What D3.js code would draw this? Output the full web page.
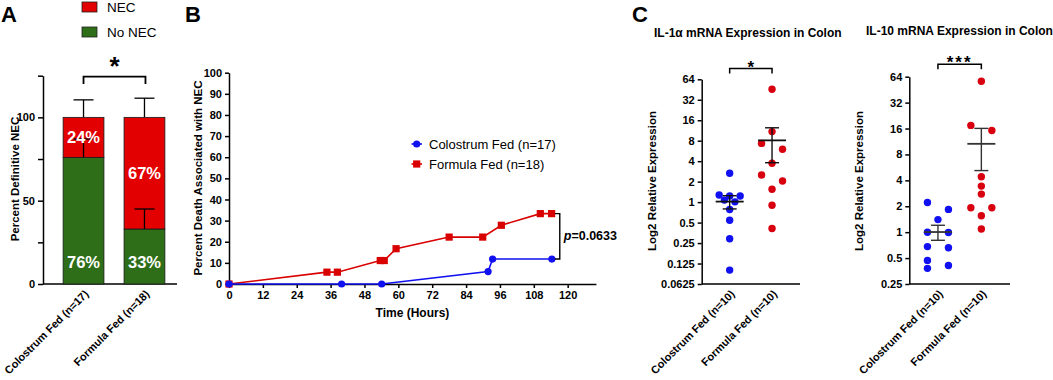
<!DOCTYPE html>
<html>
<head>
<meta charset="utf-8">
<script src="https://cdn.jsdelivr.net/npm/d3@7"></script>
<style>
  body { margin: 0; background: #fff; }
  svg { font-family: "Liberation Sans", Arial, sans-serif; }
  .axis path, .axis line { stroke: #000; stroke-width: 1.5px; }
  .axis text { font-size: 11px; font-weight: bold; fill: #000; }
</style>
</head>
<body>
<div id="chart"></div>
<script>
// ---------------- data ----------------
const groupsA = ["Colostrum Fed (n=17)", "Formula Fed (n=18)"];
const pctNoNec = [76, 33];
const pctNec = [24, 67];
const errNoNec = [11, 12];
const errTotal = [10.5, 11.5];

const colostrumHours = [0, 39.9, 54.1, 91.8, 93.4, 114.4];
const colostrumDeath = [0, 0, 0, 5.9, 11.8, 11.8];
const formulaHours = [0, 34.7, 38.4, 53.6, 55, 59.2, 78, 89.9, 96.5, 110.3, 114.3];
const formulaDeath = [0, 5.6, 5.6, 11.1, 11.1, 16.7, 22.2, 22.2, 27.8, 33.3, 33.3];
const survivalNames = ["Colostrum Fed (n=17)", "Formula Fed (n=18)"];
const hourTicks = [0, 12, 24, 36, 48, 60, 72, 84, 96, 108, 120];
const deathTicks = [0, 10, 20, 30, 40, 50, 60, 70, 80, 90, 100];

const groupsC = ["Colostrum Fed (n=10)", "Formula Fed (n=10)"];
const il1aColostrum = [2.66, 1.23, 1.27, 1.23, 1.01, 1.07, 0.78, 0.54, 0.29, 0.10];
const il1aFormula = [45.6, 10.9, 7.3, 6.0, 3.73, 2.51, 2.04, 1.55, 0.90, 0.41];
const il10Colostrum = [1.84, 2.21, 1.40, 0.99, 1.0, 0.66, 0.68, 0.47, 0.38, 0.41];
const il10Formula = [56.6, 17.4, 15.2, 4.4, 3.43, 2.77, 1.92, 1.92, 1.55, 1.09];
const il1aTicks = [0.0625, 0.125, 0.25, 0.5, 1, 2, 4, 8, 16, 32, 64];
const il10Ticks = [0.25, 0.5, 1, 2, 4, 8, 16, 32, 64];

const RED = "#e20000", GREEN = "#2e6e18", BLUE = "#1010f0", DOT_RED = "#d8000f";

// ---------------- svg ----------------
const W = 1053, H = 380;
const svg = d3.select("#chart").append("svg")
  .attr("width", W).attr("height", H);

function panelLetter(txt, x) {
  svg.append("text").attr("x", x).attr("y", 22)
    .attr("font-size", 22).attr("font-weight", "bold").text(txt);
}
function yLabel(txt, x, cy) {
  svg.append("text")
    .attr("transform", `translate(${x},${cy}) rotate(-90)`)
    .attr("text-anchor", "middle").attr("dominant-baseline", "central")
    .attr("font-size", 11.5).attr("font-weight", "bold").text(txt);
}
function rotatedXLabels(g, scale, y0) {
  g.selectAll("text.xl").data(scale.domain()).join("text")
    .attr("class", "xl")
    .attr("transform", d => `translate(${scale(d) + (scale.bandwidth ? scale.bandwidth() / 2 : 0) + 3},${y0 + 8}) rotate(-45)`)
    .attr("text-anchor", "end").attr("dy", "0.35em")
    .attr("font-size", 11).attr("font-weight", "bold").text(d => d);
}

// ---------------- Panel A ----------------
panelLetter("A", 1);
const gA = svg.append("g");
const yA = d3.scaleLinear().domain([0, 125]).range([284, 75.7]);
const xA = d3.scaleBand().domain(groupsA).range([43, 185]).paddingInner(0.33).paddingOuter(0.33);

gA.append("g").attr("class", "axis").attr("transform", "translate(43,0)")
  .call(d3.axisLeft(yA).tickValues([0, 25, 50, 75, 100, 125]).tickSize(5).tickSizeOuter(0)
    .tickFormat(d => d % 50 === 0 ? d : ""));
gA.append("line").attr("x1", 43).attr("x2", 177).attr("y1", yA(0)).attr("y2", yA(0))
  .attr("stroke", "#000").attr("stroke-width", 1.5);

const barsA = groupsA.map((g, i) => ({ g, no: pctNoNec[i], nec: pctNec[i], eNo: errNoNec[i], eTot: errTotal[i] }));
const bw = xA.bandwidth();
// upper error bars (behind bars)
barsA.forEach(d => {
  const cx = xA(d.g) + bw / 2;
  const tot = d.no + d.nec;
  gA.append("line").attr("x1", cx).attr("x2", cx).attr("y1", yA(tot)).attr("y2", yA(tot + d.eTot)).attr("stroke", "#000").attr("stroke-width", 1.3);
  gA.append("line").attr("x1", cx - 10).attr("x2", cx + 10).attr("y1", yA(tot + d.eTot)).attr("y2", yA(tot + d.eTot)).attr("stroke", "#000").attr("stroke-width", 1.3);
});
gA.selectAll("rect.no").data(barsA).join("rect").attr("class", "no")
  .attr("x", d => xA(d.g)).attr("width", bw)
  .attr("y", d => yA(d.no)).attr("height", d => yA(0) - yA(d.no))
  .attr("fill", GREEN).attr("stroke", "#1a1a1a").attr("stroke-width", 0.8);
gA.selectAll("rect.nec").data(barsA).join("rect").attr("class", "nec")
  .attr("x", d => xA(d.g)).attr("width", bw)
  .attr("y", d => yA(d.no + d.nec)).attr("height", d => yA(d.no) - yA(d.no + d.nec))
  .attr("fill", RED).attr("stroke", "#1a1a1a").attr("stroke-width", 0.8);
// error whiskers of the No NEC part, drawn inside the red segment
barsA.forEach(d => {
  const cx = xA(d.g) + bw / 2;
  gA.append("line").attr("x1", cx).attr("x2", cx).attr("y1", yA(d.no)).attr("y2", yA(d.no + d.eNo)).attr("stroke", "#000").attr("stroke-width", 1.3);
  gA.append("line").attr("x1", cx - 10).attr("x2", cx + 10).attr("y1", yA(d.no + d.eNo)).attr("y2", yA(d.no + d.eNo)).attr("stroke", "#000").attr("stroke-width", 1.3);
});
gA.selectAll("text.pn").data(barsA).join("text").attr("class", "pn")
  .attr("x", d => xA(d.g) + bw / 2).attr("y", d => yA(d.no + d.nec / 2))
  .attr("text-anchor", "middle").attr("dominant-baseline", "central")
  .attr("fill", "#fff").attr("font-size", 16.5).attr("font-weight", "bold").text(d => d.nec + "%");
gA.selectAll("text.pg").data(barsA).join("text").attr("class", "pg")
  .attr("x", d => xA(d.g) + bw / 2).attr("y", yA(0) - 22)
  .attr("text-anchor", "middle").attr("dominant-baseline", "central")
  .attr("fill", "#fff").attr("font-size", 16.5).attr("font-weight", "bold").text(d => d.no + "%");
rotatedXLabels(gA, xA, yA(0));
yLabel("Percent Definitive NEC", 15, 179);

// significance bracket
const bx1 = xA(groupsA[0]) + bw / 2, bx2 = xA(groupsA[1]) + bw / 2 + 1;
gA.append("path").attr("d", `M${bx1},${yA(120)}V${yA(124.5)}H${bx2}V${yA(120)}`)
  .attr("fill", "none").attr("stroke", "#000").attr("stroke-width", 1.8);
gA.append("text").attr("x", (bx1 + bx2) / 2).attr("y", 75).attr("text-anchor", "middle")
  .attr("font-size", 26).attr("font-weight", "bold").text("*");

// legend
[["NEC", RED], ["No NEC", GREEN]].forEach(([t, c], i) => {
  gA.append("rect").attr("x", 82).attr("y", 2 + i * 25).attr("width", 15).attr("height", 10)
    .attr("fill", c).attr("stroke", "#222").attr("stroke-width", 0.8);
  gA.append("text").attr("x", 107).attr("y", 7 + i * 25).attr("dominant-baseline", "central")
    .attr("font-size", 13.5).text(t);
});

// ---------------- Panel B ----------------
panelLetter("B", 185);
const gB = svg.append("g");
const xB = d3.scaleLinear().domain([0, 130]).range([229, 595.9]);
const yB = d3.scaleLinear().domain([0, 100]).range([284, 72.7]);
gB.append("g").attr("class", "axis").attr("transform", `translate(0,${yB(0)})`)
  .call(d3.axisBottom(xB).tickValues(hourTicks).tickSize(4).tickSizeOuter(0));
gB.append("g").attr("class", "axis").attr("transform", `translate(${xB(0)},0)`)
  .call(d3.axisLeft(yB).tickValues(deathTicks).tickSize(4).tickSizeOuter(0));

const series = [
  { name: survivalNames[0], color: BLUE, shape: "circle", pts: colostrumHours.map((h, i) => [h, colostrumDeath[i]]) },
  { name: survivalNames[1], color: "#d90000", shape: "square", pts: formulaHours.map((h, i) => [h, formulaDeath[i]]) }
];
const line = d3.line().x(d => xB(d[0])).y(d => yB(d[1]));
function marker(g, shape, x, y, color) {
  if (shape === "circle") g.append("circle").attr("cx", x).attr("cy", y).attr("r", 3.6).attr("fill", color);
  else g.append("rect").attr("x", x - 3.6).attr("y", y - 3.6).attr("width", 7.2).attr("height", 7.2).attr("fill", color);
}
// formula first so blue sits on top at zero
[series[1], series[0]].forEach(s => {
  gB.append("path").datum(s.pts).attr("d", line).attr("fill", "none")
    .attr("stroke", s.color).attr("stroke-width", 1.6);
  s.pts.forEach(p => marker(gB, s.shape, xB(p[0]), yB(p[1]), s.color));
});
series.forEach((s, i) => {
  const ly = 144 + i * 20;
  gB.append("line").attr("x1", 411.5).attr("x2", 422).attr("y1", ly).attr("y2", ly)
    .attr("stroke", s.color).attr("stroke-width", 1.6);
  marker(gB, s.shape, 416.7, ly, s.color);
  gB.append("text").attr("x", 429).attr("y", ly).attr("dominant-baseline", "central")
    .attr("font-size", 13).text(s.name);
});
// p-value bracket
const pTop = d3.max(formulaDeath), pBot = d3.max(colostrumDeath);
const px = xB(117.2);
gB.append("path").attr("d", `M${px - 5},${yB(pTop)}H${px}V${yB(pBot)}H${px - 5}`)
  .attr("fill", "none").attr("stroke", "#000").attr("stroke-width", 1.4);
const pt = gB.append("text").attr("x", px + 4).attr("y", (yB(pTop) + yB(pBot)) / 2)
  .attr("dominant-baseline", "central").attr("font-size", 12.5).attr("font-weight", "bold");
pt.append("tspan").attr("font-style", "italic").text("p");
pt.append("tspan").text("=0.0633");
svg.append("text").attr("x", (xB.range()[0] + xB.range()[1]) / 2).attr("y", 313).attr("text-anchor", "middle")
  .attr("dominant-baseline", "central").attr("font-size", 12).attr("font-weight", "bold").text("Time (Hours)");
yLabel("Percent Death Associated with NEC", 198, 178);

// ---------------- Panel C ----------------
panelLetter("C", 632);

// simple column arrangement for overlapping dots
function dodge(vals, y, step) {
  const idx = vals.map((v, i) => i).sort((a, b) => y(vals[a]) - y(vals[b]));
  const py = idx.map(i => y(vals[i]));
  const off = new Array(vals.length).fill(0);
  const clusters = [];
  let cur = [0];
  for (let k = 1; k < idx.length; k++) {
    if (py[k] - py[k - 1] < 7.2) cur.push(k); else { clusters.push(cur); cur = [k]; }
  }
  clusters.push(cur);
  clusters.forEach(c => {
    if (c.length === 1) return;
    const rows = [];
    let r = [c[0]];
    for (let j = 1; j < c.length; j++) {
      if (py[c[j]] - py[c[j - 1]] < 2.5) r.push(c[j]); else { rows.push(r); r = [c[j]]; }
    }
    rows.push(r);
    if (rows.every(rw => rw.length === 1)) {
      rows.forEach((rw, j) => off[idx[rw[0]]] = j % 2 === 0 ? -1 : 1);
      return;
    }
    let prev = 0;
    rows.forEach(rw => {
      const k = rw.length;
      const spread = (k % 2 === 0 && !(prev % 2 === 1 && prev >= 3)) ? 2 : 1;
      rw.forEach((m, j) => off[idx[m]] = (j - (k - 1) / 2) * spread);
      prev = k;
    });
  });
  return off.map(o => o * step);
}

function scatterPanel(opt) {
  const g = svg.append("g");
  const x = d3.scalePoint().domain(groupsC).range([opt.x0, opt.x1]).padding(0.66);
  const y = d3.scaleLog().base(2).domain(opt.domain).range([284, opt.yTop]);
  g.append("g").attr("class", "axis").attr("transform", `translate(${opt.x0},0)`)
    .call(d3.axisLeft(y).tickValues(opt.ticks).tickSize(4).tickSizeOuter(0).tickFormat(d => String(d)));
  g.append("line").attr("x1", opt.x0).attr("x2", opt.x1).attr("y1", 284).attr("y2", 284)
    .attr("stroke", "#000").attr("stroke-width", 1.5);
  opt.sets.forEach((vals, gi) => {
    const cx = x(groupsC[gi]);
    const off = dodge(vals, y, 10.5);
    g.selectAll(null).data(vals).join("circle")
      .attr("cx", (d, i) => cx + off[i]).attr("cy", d => y(d)).attr("r", 3.7)
      .attr("fill", gi === 0 ? BLUE : DOT_RED);
    const m = d3.mean(vals), sem = d3.deviation(vals) / Math.sqrt(vals.length);
    const col = opt.barColor;
    g.append("line").attr("x1", cx).attr("x2", cx).attr("y1", y(m - sem)).attr("y2", y(m + sem)).attr("stroke", col).attr("stroke-width", 1.4);
    [[m - sem, 7], [m + sem, 7], [m, 14]].forEach(([v, hw]) => {
      g.append("line").attr("x1", cx - hw).attr("x2", cx + hw).attr("y1", y(v)).attr("y2", y(v))
        .attr("stroke", col).attr("stroke-width", v === m ? 1.8 : 1.4);
    });
  });
  rotatedXLabels(g, x, 284);
  // bracket
  const b1 = x(groupsC[0]), b2 = x(groupsC[1]);
  g.append("path").attr("d", `M${b1},${opt.by + 5}V${opt.by}H${b2}V${opt.by + 5}`)
    .attr("fill", "none").attr("stroke", "#000").attr("stroke-width", 1.5);
  g.append("text").attr("x", (b1 + b2) / 2).attr("y", opt.by + 4).attr("text-anchor", "middle")
    .attr("font-size", 17).attr("font-weight", "bold").attr("letter-spacing", opt.ls).text(opt.star);
  g.append("text").attr("x", opt.titleX).attr("y", opt.titleY).attr("font-size", 12)
    .attr("font-weight", "bold").text(opt.title);
  yLabel("Log2 Relative Expression", opt.labelX, 181);
}

scatterPanel({
  x0: 701.7, x1: 800, domain: [0.0625, 64], yTop: 79.3, ticks: il1aTicks,
  sets: [il1aColostrum, il1aFormula], barColor: "#111", by: 68.5, star: "*", ls: 0,
  title: "IL-1\u03b1 mRNA Expression in Colon", titleX: 654, titleY: 37, labelX: 652
});
scatterPanel({
  x0: 909.3, x1: 1010, domain: [0.25, 64], yTop: 76.7, ticks: il10Ticks,
  sets: [il10Colostrum, il10Formula], barColor: "#333", by: 64.3, star: "***", ls: 2,
  title: "IL-10 mRNA Expression in Colon", titleX: 866, titleY: 35, labelX: 859
});
</script>
</body>
</html>
